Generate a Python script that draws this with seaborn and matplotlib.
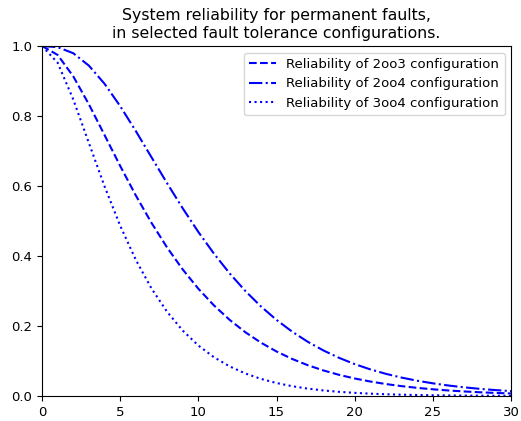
import pandas as pd
import matplotlib
matplotlib.use("Agg")
import matplotlib.pyplot as plt
import seaborn as sns

# time axis and reliability values
t = list(range(0, 31))
r_2oo3 = [1.0, 0.97456, 0.91334, 0.83330, 0.74560, 0.65738, 0.57298, 0.49488,
          0.42426, 0.36149, 0.30643, 0.25864, 0.21751, 0.18234, 0.15244, 0.12714,
          0.10583, 0.08793, 0.07294, 0.06042, 0.04999, 0.04132, 0.03411, 0.02814,
          0.02320, 0.01911, 0.01573, 0.01294, 0.01064, 0.00875, 0.00719]
r_2oo4 = [1.0, 0.99680, 0.97941, 0.94389, 0.89211, 0.82824, 0.75693, 0.68236,
          0.60792, 0.53612, 0.46866, 0.40659, 0.35041, 0.30026, 0.25599, 0.21729,
          0.18372, 0.15480, 0.13005, 0.10896, 0.09107, 0.07596, 0.06324, 0.05255,
          0.04361, 0.03614, 0.02991, 0.02473, 0.02043, 0.01686, 0.01391]
r_3oo4 = [1.0, 0.95231, 0.84726, 0.72270, 0.59909, 0.48652, 0.38904, 0.30739,
          0.24059, 0.18685, 0.14420, 0.11070, 0.08461, 0.06442, 0.04889, 0.03700,
          0.02793, 0.02105, 0.01583, 0.01188, 0.00891, 0.00667, 0.00499, 0.00373,
          0.00279, 0.00208, 0.00155, 0.00116, 0.00086, 0.00064, 0.00047]

df = pd.DataFrame({'t': t, '2oo3': r_2oo3, '2oo4': r_2oo4, '3oo4': r_3oo4})

fig = plt.figure(figsize=(5.21, 4.21), dpi=100)
ax = fig.add_axes([0.0806, 0.0594, 0.9004, 0.8313])

sns.lineplot(data=df, x='t', y='2oo3', color='blue', linestyle='--',
             label='Reliability of 2oo3 configuration', ax=ax)
sns.lineplot(data=df, x='t', y='2oo4', color='blue', linestyle='-.',
             label='Reliability of 2oo4 configuration', ax=ax)
sns.lineplot(data=df, x='t', y='3oo4', color='blue', linestyle=':',
             label='Reliability of 3oo4 configuration', ax=ax)

ax.set_xlim(0, 30)
ax.set_ylim(0, 1)
ax.set_xlabel('')
ax.set_ylabel('')
ax.tick_params(labelsize=9.5)
ax.set_title('System reliability for permanent faults,\nin selected fault tolerance configurations.',
             fontsize=11.3)
ax.legend(loc='upper right', fontsize=9.5)

fig.savefig('out.png', dpi=100)
